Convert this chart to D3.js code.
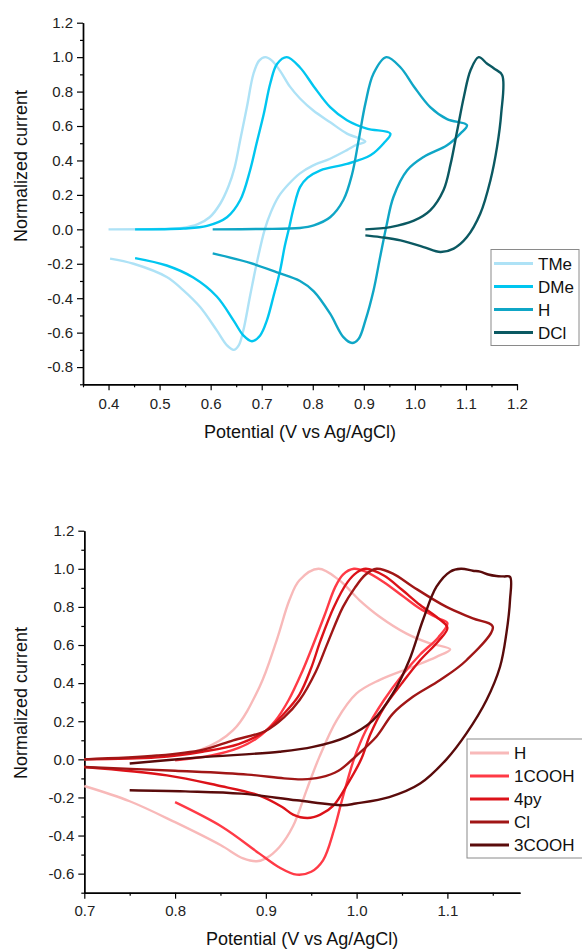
<!DOCTYPE html>
<html>
<head>
<meta charset="utf-8">
<script src="https://cdn.jsdelivr.net/npm/d3@7"></script>
<style>
  body { margin: 0; background: #fff; }
  svg { display: block; font-family: Arial, "Liberation Sans", sans-serif; }
</style>
</head>
<body>
<svg id="chart" width="582" height="949"></svg>
<script>
// ---- top panel: methyl / H / Cl substituted (blue) ----
var topNames = ["TMe", "DMe", "H", "DCl"];
var topColors = ["#aee2f6", "#00c6f0", "#0fa6c6", "#0b5962"];

var topTMe = [[0.40,0.0],[0.50,0.002],[0.545,0.008],[0.575,0.03],[0.598,0.07],[0.619,0.15],[0.635,0.25],
  [0.647,0.36],[0.658,0.52],[0.671,0.71],[0.684,0.905],[0.695,0.98],[0.707,1.0],[0.72,0.98],[0.736,0.92],
  [0.755,0.83],[0.775,0.76],[0.801,0.69],[0.835,0.62],[0.867,0.556],[0.903,0.51],[0.885,0.49],[0.867,0.46],
  [0.834,0.41],[0.80,0.37],[0.775,0.325],[0.752,0.26],[0.733,0.19],[0.718,0.1],[0.706,0.0],[0.69,-0.2],
  [0.677,-0.39],[0.664,-0.587],[0.655,-0.674],[0.645,-0.70],[0.632,-0.674],[0.612,-0.587],[0.579,-0.45],
  [0.545,-0.35],[0.514,-0.277],[0.449,-0.2],[0.403,-0.17]];
var topDMe = [[0.452,0.0],[0.547,0.005],[0.593,0.02],[0.632,0.07],[0.658,0.17],[0.677,0.34],[0.69,0.50],
  [0.704,0.67],[0.717,0.85],[0.73,0.96],[0.749,1.0],[0.775,0.94],[0.802,0.83],[0.834,0.71],[0.867,0.634],
  [0.906,0.585],[0.952,0.556],[0.939,0.50],[0.913,0.43],[0.867,0.38],[0.815,0.343],[0.79,0.3],
  [0.775,0.245],[0.763,0.13],[0.753,0.0],[0.745,-0.1],[0.736,-0.24],[0.723,-0.39],[0.71,-0.53],
  [0.697,-0.616],[0.681,-0.65],[0.664,-0.616],[0.645,-0.53],[0.612,-0.39],[0.566,-0.28],[0.514,-0.21],
  [0.452,-0.167]];
var topH = [[0.604,0.0],[0.70,0.002],[0.775,0.008],[0.802,0.023],[0.834,0.07],[0.86,0.17],[0.877,0.32],
  [0.89,0.52],[0.903,0.73],[0.919,0.905],[0.944,1.0],[0.972,0.94],[0.998,0.83],[1.03,0.71],[1.063,0.64],
  [1.102,0.605],[1.089,0.556],[1.063,0.488],[1.017,0.42],[0.985,0.343],[0.958,0.188],[0.945,0.03],
  [0.932,-0.16],[0.919,-0.355],[0.903,-0.53],[0.89,-0.635],[0.877,-0.66],[0.86,-0.626],[0.834,-0.49],
  [0.802,-0.36],[0.775,-0.3],[0.73,-0.25],[0.677,-0.195],[0.604,-0.14]];
var topDCl = [[0.903,0.0],[0.952,0.013],[0.998,0.05],[1.03,0.11],[1.056,0.227],[1.07,0.38],[1.083,0.575],
  [1.096,0.77],[1.109,0.924],[1.125,1.0],[1.141,0.963],[1.155,0.934],[1.171,0.895],[1.169,0.67],
  [1.161,0.48],[1.148,0.285],[1.128,0.09],[1.102,-0.045],[1.076,-0.112],[1.05,-0.132],[1.017,-0.103],
  [0.972,-0.064],[0.932,-0.045],[0.903,-0.035]];

// ---- bottom panel: carboxy / pyridyl / Cl (red) ----
var botNames = ["H", "1COOH", "4py", "Cl", "3COOH"];
var botColors = ["#f8b9b9", "#ff3a46", "#dc1219", "#a01616", "#5a0b0b"];

var botH = [[0.70,0.0],[0.78,0.015],[0.827,0.048],[0.864,0.153],[0.893,0.38],[0.912,0.626],[0.926,0.836],
  [0.937,0.94],[0.958,1.0],[0.981,0.94],[1.003,0.836],[1.025,0.75],[1.055,0.66],[1.08,0.61],[1.103,0.577],
  [1.088,0.538],[1.062,0.486],[1.025,0.416],[1.0,0.346],[0.978,0.205],[0.959,0.013],[0.945,-0.16],
  [0.93,-0.35],[0.915,-0.46],[0.90,-0.52],[0.89,-0.535],[0.875,-0.52],[0.85,-0.45],[0.80,-0.33],
  [0.75,-0.22],[0.70,-0.14]];
var bot1COOH = [[0.80,-0.005],[0.84,0.02],[0.87,0.06],[0.89,0.11],[0.91,0.20],[0.925,0.31],[0.94,0.46],
  [0.952,0.60],[0.965,0.76],[0.976,0.90],[0.985,0.97],[0.997,1.0],[1.01,0.985],[1.03,0.93],[1.05,0.86],
  [1.07,0.79],[1.09,0.74],[1.10,0.715],[1.09,0.64],[1.07,0.55],[1.05,0.44],[1.03,0.31],[1.01,0.15],
  [0.997,0.0],[0.99,-0.11],[0.983,-0.23],[0.975,-0.372],[0.963,-0.53],[0.95,-0.59],[0.934,-0.605],
  [0.914,-0.565],[0.893,-0.495],[0.852,-0.355],[0.80,-0.225]];
var bot4py = [[0.70,0.0],[0.78,0.01],[0.83,0.04],[0.87,0.08],[0.90,0.15],[0.92,0.24],[0.937,0.34],
  [0.95,0.48],[0.96,0.62],[0.975,0.80],[0.99,0.93],[1.0,0.98],[1.01,1.0],[1.03,0.965],[1.05,0.89],
  [1.07,0.81],[1.09,0.74],[1.10,0.69],[1.09,0.62],[1.07,0.52],[1.05,0.40],[1.03,0.27],[1.015,0.13],
  [1.005,0.0],[0.99,-0.13],[0.975,-0.24],[0.96,-0.29],[0.946,-0.308],[0.93,-0.29],[0.918,-0.25],
  [0.893,-0.19],[0.846,-0.136],[0.791,-0.084],[0.70,-0.04]];
var botCl = [[0.70,0.0],[0.78,0.02],[0.83,0.05],[0.864,0.10],[0.90,0.15],[0.92,0.22],[0.937,0.31],
  [0.955,0.46],[0.968,0.61],[0.985,0.80],[0.998,0.90],[1.01,0.97],[1.022,1.0],[1.04,0.975],[1.062,0.906],
  [1.099,0.80],[1.128,0.74],[1.15,0.696],[1.121,0.52],[1.092,0.416],[1.062,0.328],[1.04,0.24],
  [1.022,0.12],[1.0,0.02],[0.98,-0.06],[0.96,-0.095],[0.94,-0.105],[0.92,-0.10],[0.88,-0.08],
  [0.80,-0.06],[0.70,-0.04]];
var bot3COOH = [[0.75,-0.022],[0.827,0.01],[0.915,0.04],[0.952,0.065],[0.989,0.118],[1.018,0.205],
  [1.04,0.346],[1.058,0.52],[1.073,0.73],[1.088,0.906],[1.103,0.985],[1.115,1.0],[1.128,0.99],
  [1.136,0.985],[1.145,0.97],[1.154,0.962],[1.162,0.96],[1.169,0.958],[1.169,0.836],[1.165,0.661],
  [1.158,0.486],[1.143,0.31],[1.121,0.136],[1.099,0.0],[1.07,-0.127],[1.036,-0.198],[0.999,-0.232],
  [0.985,-0.241],[0.934,-0.215],[0.873,-0.18],[0.811,-0.168],[0.75,-0.162]];

// tick values
var topXMajor = [0.4,0.5,0.6,0.7,0.8,0.9,1.0,1.1,1.2];
var topXMinor = [0.35,0.45,0.55,0.65,0.75,0.85,0.95,1.05,1.15];
var topYMajor = [-0.8,-0.6,-0.4,-0.2,0.0,0.2,0.4,0.6,0.8,1.0,1.2];
var topYMinor = [-0.9,-0.7,-0.5,-0.3,-0.1,0.1,0.3,0.5,0.7,0.9,1.1];
var botXMajor = [0.7,0.8,0.9,1.0,1.1];
var botXMinor = [0.75,0.85,0.95,1.05,1.15];
var botYMajor = [-0.6,-0.4,-0.2,0.0,0.2,0.4,0.6,0.8,1.0,1.2];
var botYMinor = [-0.7,-0.5,-0.3,-0.1,0.1,0.3,0.5,0.7,0.9,1.1];

var svg = d3.select("#chart");
var fmt = function(d){ return d.toFixed(1); };

function drawPanel(p){
  var x = d3.scaleLinear().domain(p.xDomain).range([p.left, p.right]);
  var y = d3.scaleLinear().domain(p.yDomain).range([p.bottom, p.top]);
  var g = svg.append("g");

  // minor ticks first, then major with labels
  g.append("g").attr("transform","translate(0,"+p.bottom+")")
    .call(d3.axisBottom(x).tickValues(p.xMinor).tickSize(3).tickSizeOuter(0).tickFormat(""));
  g.append("g").attr("transform","translate("+p.left+",0)")
    .call(d3.axisLeft(y).tickValues(p.yMinor).tickSize(3).tickSizeOuter(0).tickFormat(""));
  g.append("g").attr("transform","translate(0,"+p.bottom+")")
    .call(d3.axisBottom(x).tickValues(p.xMajor).tickSize(6).tickSizeOuter(0).tickPadding(p.xPad).tickFormat(fmt));
  g.append("g").attr("transform","translate("+p.left+",0)")
    .call(d3.axisLeft(y).tickValues(p.yMajor).tickSize(6).tickSizeOuter(0).tickPadding(4).tickFormat(fmt));

  g.selectAll(".domain").attr("stroke","#000").attr("stroke-width",1.4);
  g.selectAll(".tick line").attr("stroke","#000").attr("stroke-width",1.2);
  g.selectAll(".tick text").style("font-size","15px").attr("fill","#222")
    .style("font-family","Arial, 'Liberation Sans', sans-serif");

  // axis titles
  g.append("text")
    .attr("x", (p.left+p.right)/2).attr("y", p.xTitleY)
    .attr("text-anchor","middle").style("font-size","18px").attr("fill","#111")
    .text("Potential (V vs Ag/AgCl)");
  g.append("text")
    .attr("transform","translate(26.5,"+p.yTitleMid+") rotate(-90)")
    .attr("text-anchor","middle").style("font-size","18px").attr("fill","#111")
    .text("Normalized current");

  // curves
  var line = d3.line()
    .x(function(d){ return x(d[0]); })
    .y(function(d){ return y(d[1]); })
    .curve(d3.curveCatmullRom.alpha(0.5));
  p.series.forEach(function(s, i){
    g.append("path")
      .datum(s)
      .attr("fill","none")
      .attr("stroke", p.colors[i])
      .attr("stroke-width", 2.4)
      .attr("stroke-linejoin","round")
      .attr("d", line);
  });

  // legend
  var lg = g.append("g");
  lg.append("rect")
    .attr("x", p.legX).attr("y", p.legY)
    .attr("width", p.legW).attr("height", p.names.length*23 + 4)
    .attr("fill","#fff").attr("stroke","#8a8a8a").attr("stroke-width",1);
  p.names.forEach(function(n, i){
    var yy = p.legY + 14 + i*23;
    lg.append("line")
      .attr("x1", p.legX+3).attr("x2", p.legX+42)
      .attr("y1", yy).attr("y2", yy)
      .attr("stroke", p.colors[i]).attr("stroke-width", 3);
    lg.append("text")
      .attr("x", p.legX+47).attr("y", yy+6)
      .style("font-size","17px").attr("fill","#111")
      .text(n);
  });
}

drawPanel({
  xDomain:[0.35,1.2], yDomain:[-0.9,1.2],
  left:83, right:517, top:22.7, bottom:384.3,
  xMajor:topXMajor, xMinor:topXMinor, yMajor:topYMajor, yMinor:topYMinor,
  xPad:8, xTitleY:438, yTitleMid:166,
  series:[topTMe, topDMe, topH, topDCl], colors:topColors, names:topNames,
  legX:491, legY:249.5, legW:88
});

drawPanel({
  xDomain:[0.7,1.18], yDomain:[-0.7,1.2],
  left:84.3, right:520, top:530.7, bottom:892.7,
  xMajor:botXMajor, xMinor:botXMinor, yMajor:botYMajor, yMinor:botYMinor,
  xPad:7, xTitleY:945, yTitleMid:703,
  series:[botH, bot1COOH, bot4py, botCl, bot3COOH], colors:botColors, names:botNames,
  legX:467, legY:739, legW:116
});
</script>
</body>
</html>
